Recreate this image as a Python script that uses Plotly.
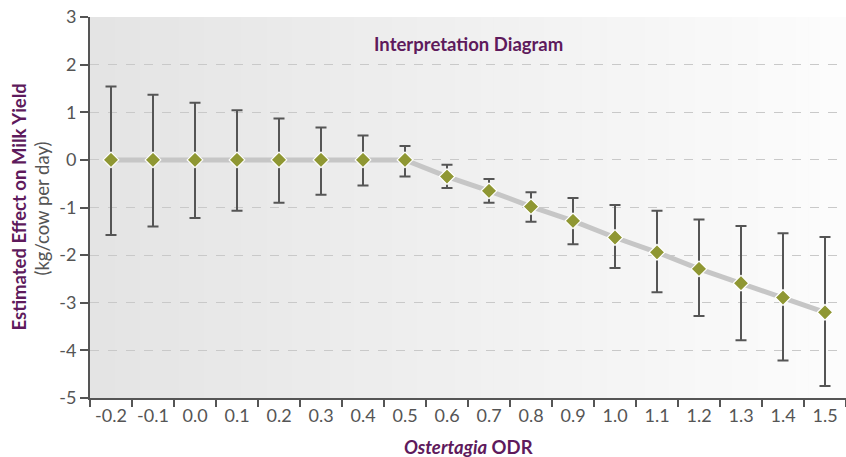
import plotly.graph_objects as go

odr = ["-0.2", "-0.1", "0.0", "0.1", "0.2", "0.3", "0.4", "0.5", "0.6", "0.7",
       "0.8", "0.9", "1.0", "1.1", "1.2", "1.3", "1.4", "1.5"]
effect = [0, 0, 0, 0, 0, 0, 0, 0, -0.35, -0.65, -0.98, -1.28, -1.63, -1.94,
          -2.29, -2.59, -2.89, -3.20]
upper = [1.54, 1.37, 1.20, 1.04, 0.87, 0.68, 0.51, 0.29, -0.10, -0.40, -0.68,
         -0.80, -0.95, -1.07, -1.25, -1.39, -1.54, -1.62]
lower = [-1.58, -1.40, -1.22, -1.07, -0.90, -0.73, -0.54, -0.35, -0.59, -0.90,
         -1.30, -1.77, -2.27, -2.78, -3.28, -3.79, -4.21, -4.75]
y_ticks = [3, 2, 1, 0, -1, -2, -3, -4, -5]
y_labels = ["3", "2", "1", "0", "-1", "-2", "-3", "-4", "-5"]

err_plus = [u - e for u, e in zip(upper, effect)]
err_minus = [e - l for e, l in zip(effect, lower)]

PURPLE = "#5e1a5c"
GREY = "#555555"
FONT = "Lato"

fig = go.Figure()

fig.add_trace(go.Scatter(
    x=odr, y=effect, mode="lines",
    line=dict(color="#c6c6c6", width=5),
    hoverinfo="skip", showlegend=False,
))
fig.add_trace(go.Scatter(
    x=odr, y=effect, mode="markers",
    marker=dict(symbol="diamond", size=12, color="#8f9733",
                line=dict(color="white", width=1.2)),
    error_y=dict(type="data", symmetric=False, array=err_plus,
                 arrayminus=err_minus, color=GREY, thickness=2, width=5.5),
    showlegend=False,
))

n = 60
shapes = []
c0 = (228, 228, 228)
c1 = (252, 252, 252)
for i in range(n):
    t = i / (n - 1)
    c = tuple(int(round(a + (b - a) * t)) for a, b in zip(c0, c1))
    shapes.append(dict(
        type="rect", xref="x domain", yref="y domain",
        x0=i / n, x1=(i + 1) / n + 0.002, y0=0, y1=1,
        fillcolor="rgb(%d,%d,%d)" % c, line=dict(width=0), layer="below",
    ))

fig.update_layout(
    width=846, height=457,
    margin=dict(l=90, r=0, t=17, b=59, autoexpand=False),
    paper_bgcolor="white", plot_bgcolor="rgba(0,0,0,0)",
    font=dict(family=FONT, color=GREY, size=18),
    shapes=shapes,
    annotations=[
        dict(text="<b>Interpretation Diagram</b>", xref="x domain", yref="paper",
             x=0.5, y=0.93, xanchor="center", yanchor="middle", showarrow=False,
             font=dict(family=FONT, size=18.5, color=PURPLE)),
        dict(text="<b>Estimated Effect on Milk Yield</b>", xref="paper", yref="y domain",
             x=-90 / 756, y=0.5, xanchor="center", yanchor="middle", showarrow=False,
             textangle=-90, xshift=18, font=dict(family=FONT, size=18.5, color=PURPLE)),
        dict(text="(kg/cow per day)", xref="paper", yref="y domain",
             x=-90 / 756, y=0.5, xanchor="center", yanchor="middle", showarrow=False,
             textangle=-90, xshift=41, yshift=-1, font=dict(family=FONT, size=18.5, color=GREY)),
        dict(text="<b><i>Ostertagia</i> ODR</b>", xref="x domain", yref="paper",
             x=0.5, y=-49 / 381, xanchor="center", yanchor="middle", showarrow=False,
             font=dict(family=FONT, size=18.5, color=PURPLE)),
    ],
)

fig.update_xaxes(
    type="category", categoryorder="array", categoryarray=odr,
    range=[-0.5, len(odr) - 0.5], automargin=False,
    showline=True, linecolor=GREY, linewidth=2,
    ticks="outside", tickson="boundaries", ticklen=7, tickwidth=2, tickcolor=GREY,
    showgrid=False, zeroline=False,
    tickfont=dict(family=FONT, size=18, color=GREY),
)
fig.update_yaxes(
    range=[-5, 3], tickvals=y_ticks, ticktext=y_labels, automargin=False,
    showline=True, linecolor=GREY, linewidth=2,
    ticks="outside", ticklen=8, tickwidth=2, tickcolor=GREY,
    showgrid=True, gridcolor="#c9c9c9", griddash="dash", gridwidth=1,
    zeroline=False,
    tickfont=dict(family=FONT, size=18, color=GREY),
)

fig.write_html("out.html", config={"displayModeBar": False},
               post_script="document.body.style.margin='0px';")
